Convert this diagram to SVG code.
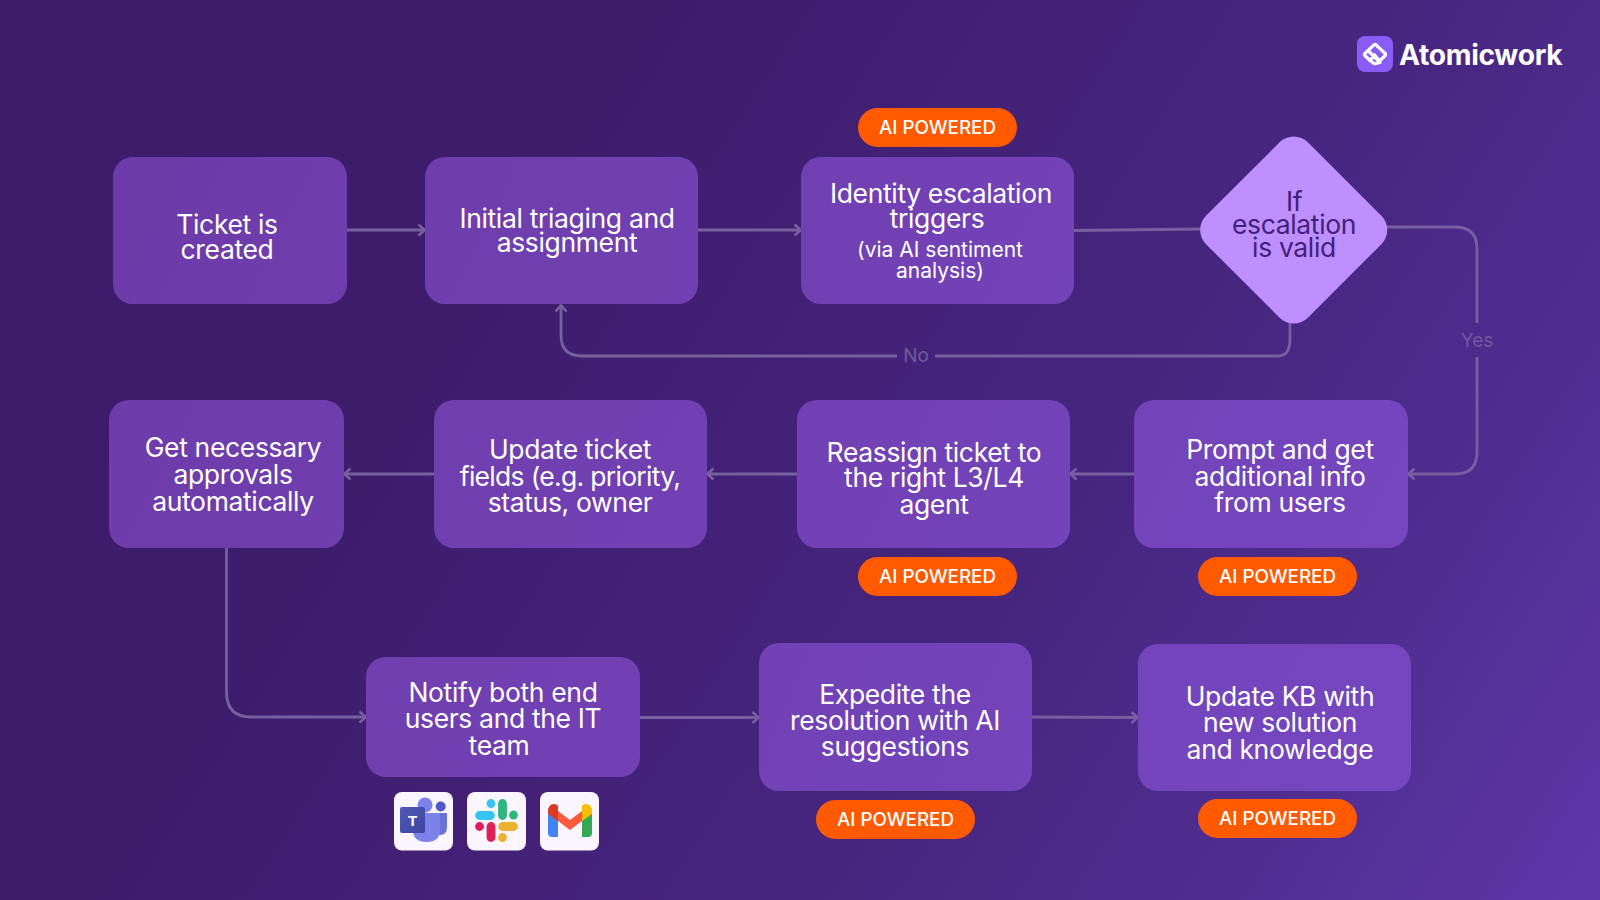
<svg xmlns="http://www.w3.org/2000/svg" width="1600" height="900" viewBox="0 0 1600 900">
<defs>
<linearGradient id="bg" gradientUnits="userSpaceOnUse" x1="500" y1="250" x2="1600" y2="950">
<stop offset="0" stop-color="#3e1c6c"/><stop offset="0.5" stop-color="#472681"/><stop offset="0.75" stop-color="#502e92"/><stop offset="1" stop-color="#6038ab"/>
</linearGradient>
<linearGradient id="box" gradientUnits="userSpaceOnUse" x1="100" y1="150" x2="1420" y2="800">
<stop offset="0" stop-color="#6d3ba8"/><stop offset="1" stop-color="#7547c0"/>
</linearGradient>
<marker id="arr" viewBox="0 0 10 14" refX="9" refY="7" markerWidth="10" markerHeight="14" markerUnits="userSpaceOnUse" orient="auto">
<path d="M2.500 1.500 L8.700 7 L2.500 12.500" fill="none" stroke="#77609f" stroke-width="2.600"/>
</marker>
<linearGradient id="tm" x1="0" y1="0" x2="1" y2="1"><stop offset="0" stop-color="#4f5ab8"/><stop offset="1" stop-color="#3d44a0"/></linearGradient>
</defs>
<style>
.b{fill:url(#box)}
.t{font-family:"Inter","Liberation Sans",sans-serif;font-size:26.5px;fill:#fff;text-anchor:middle;letter-spacing:-0.35px}
.s{font-size:21px;letter-spacing:0}
.d{fill:#43207a}
.c{fill:none;stroke:#77609f;stroke-width:2.800}
.p{fill:#ff5a00}
.pt{font-family:"Inter","Liberation Sans",sans-serif;font-size:18.800px;font-weight:500;fill:#fff;text-anchor:middle}
.l{font-family:"Inter","Liberation Sans",sans-serif;font-size:19px;fill:#6f5a9c;text-anchor:middle}
.w{fill:#faf5ff}
</style>
<rect width="1600" height="900" fill="url(#bg)"/>
<g id="connectors">
<path class="c" marker-end="url(#arr)" d="M347 230H425"/>
<path class="c" marker-end="url(#arr)" d="M698 230H801"/>
<path class="c" d="M1074 230.500L1202 229"/>
<path class="c" d="M1386 227H1455Q1477 227 1477 249V323"/>
<path class="c" marker-end="url(#arr)" d="M1477 357V452Q1477 474 1455 474H1408"/>
<path class="c" d="M1290 323V339Q1290 356 1278 356H935"/>
<path class="c" marker-end="url(#arr)" d="M897 356H582Q561 356 561 335V305"/>
<path class="c" marker-end="url(#arr)" d="M1134 474H1070"/>
<path class="c" marker-end="url(#arr)" d="M797 474H707"/>
<path class="c" marker-end="url(#arr)" d="M434 474H344"/>
<path class="c" marker-end="url(#arr)" d="M226.500 548V692Q226.500 717 251 717H366"/>
<path class="c" marker-end="url(#arr)" d="M640 717.500H759"/>
<path class="c" marker-end="url(#arr)" d="M1032 717L1138 717.500"/>
<text class="l" x="916" y="362">No</text>
<text class="l" x="1477" y="347">Yes</text>
</g>
<g id="n-ticket"><rect class="b" x="113" y="157" width="234" height="147" rx="20"/><text class="t" x="227" y="234">Ticket is</text><text class="t" x="227" y="259">created</text></g>
<g id="n-triage"><rect class="b" x="425" y="157" width="273" height="147" rx="20"/><text class="t" x="567" y="228">Initial triaging and</text><text class="t" x="567" y="252">assignment</text></g>
<g id="n-identity"><rect class="b" x="801" y="157" width="273" height="147" rx="20"/><text class="t" x="941" y="203">Identity escalation</text><text class="t" x="937" y="228">triggers</text><text class="t s" x="940" y="257">(via AI sentiment</text><text class="t s" x="940" y="278">analysis)</text></g>
<g id="n-diamond"><rect x="1221.700" y="158" width="144" height="144" rx="20" fill="#bd8fff" transform="rotate(45 1293.700 230)"/><text class="t d" x="1294" y="211">If</text><text class="t d" x="1294" y="234">escalation</text><text class="t d" x="1294" y="257">is valid</text></g>
<g id="n-approvals"><rect class="b" x="109" y="400" width="235" height="148" rx="20"/><text class="t" x="233" y="457">Get necessary</text><text class="t" x="233" y="484">approvals</text><text class="t" x="233" y="511">automatically</text></g>
<g id="n-fields"><rect class="b" x="434" y="400" width="273" height="148" rx="20"/><text class="t" x="570" y="459">Update ticket</text><text class="t" x="570" y="486" style="letter-spacing:-0.7px">fields (e.g. priority,</text><text class="t" x="570" y="512">status, owner</text></g>
<g id="n-reassign"><rect class="b" x="797" y="400" width="273" height="148" rx="20"/><text class="t" x="934" y="462">Reassign ticket to</text><text class="t" x="934" y="487">the right L3/L4</text><text class="t" x="934" y="514">agent</text></g>
<g id="n-prompt"><rect class="b" x="1134" y="400" width="274" height="148" rx="20"/><text class="t" x="1280" y="459">Prompt and get</text><text class="t" x="1280" y="486">additional info</text><text class="t" x="1280" y="512">from users</text></g>
<g id="n-notify"><rect class="b" x="366" y="657" width="274" height="120" rx="20"/><text class="t" x="503" y="702">Notify both end</text><text class="t" x="503" y="728">users and the IT</text><text class="t" x="499" y="755">team</text></g>
<g id="n-expedite"><rect class="b" x="759" y="643" width="273" height="148" rx="20"/><text class="t" x="895" y="704">Expedite the</text><text class="t" x="895" y="730">resolution with AI</text><text class="t" x="895" y="756">suggestions</text></g>
<g id="n-kb"><rect class="b" x="1138" y="644" width="273" height="147" rx="20"/><text class="t" x="1280" y="706">Update KB with</text><text class="t" x="1280" y="732">new solution</text><text class="t" x="1280" y="759">and knowledge</text></g>
<g id="pill-1"><rect class="p" x="858" y="108" width="159" height="39" rx="19.500"/><text class="pt" x="937.500" y="134">AI POWERED</text></g>
<g id="pill-2"><rect class="p" x="858" y="557" width="159" height="39" rx="19.500"/><text class="pt" x="937.500" y="583">AI POWERED</text></g>
<g id="pill-3"><rect class="p" x="1198" y="557" width="159" height="39" rx="19.500"/><text class="pt" x="1277.500" y="583">AI POWERED</text></g>
<g id="pill-4"><rect class="p" x="816" y="800" width="159" height="39" rx="19.500"/><text class="pt" x="895.500" y="826">AI POWERED</text></g>
<g id="pill-5"><rect class="p" x="1198" y="799" width="159" height="39" rx="19.500"/><text class="pt" x="1277.500" y="825">AI POWERED</text></g>
<g id="icon-teams"><rect class="w" x="394" y="792" width="59" height="58.500" rx="8"/>
<circle cx="425" cy="805" r="7.500" fill="#7b83eb"/><circle cx="440.700" cy="806.500" r="5" fill="#5059c9"/>
<path d="M435 813H447V827Q447 835 440 835H435Z" fill="#6a72d8"/>
<path d="M413 813H440V830Q440 842 426.500 842Q413 842 413 830Z" fill="#7b83eb"/>
<rect x="400" y="807" width="25" height="26" rx="2" fill="url(#tm)"/>
<text x="412.500" y="826" font-family="'Liberation Sans',sans-serif" font-size="15" font-weight="700" fill="#fff" text-anchor="middle">T</text></g>
<g id="icon-slack"><rect class="w" x="467" y="792" width="59" height="58.500" rx="8"/>
<g stroke-linecap="round" stroke-width="8.800" fill="none">
<path d="M479.500 815.500H490.500" stroke="#36c5f0"/><path d="M491 803.500V803.600" stroke="#36c5f0"/>
<path d="M502.500 803.500V815.500" stroke="#2eb67d"/><path d="M513.500 815V815.100" stroke="#2eb67d"/>
<path d="M479.500 826.500H479.600" stroke="#e01e5a"/><path d="M491 826.500V837.500" stroke="#e01e5a"/>
<path d="M502.500 826.500H513.500" stroke="#ecb22e"/><path d="M502.500 837.500V837.600" stroke="#ecb22e"/>
</g></g>
<g id="icon-gmail"><rect class="w" x="540" y="792" width="59" height="58.500" rx="8"/>
<path d="M548 813V833Q548 837 552 837H558V815Z" fill="#4285f4"/><path d="M582 815V837H588Q592 837 592 833V813Z" fill="#34a853"/>
<path d="M558 811L570 820L582 811V821L570 830L558 821Z" fill="#ff5a3c"/>
<path d="M548 812Q548 804 554 804Q556 804 558 805.500L558 821L548 814Z" fill="#d93b25"/>
<path d="M582 805.500Q584 804 586 804Q592 804 592 812V814L582 821Z" fill="#fbbc04"/></g>
<g id="logo"><rect x="1357" y="36" width="36" height="36" rx="8" fill="#8a5cf6"/>
<g fill="none" stroke="#fff" stroke-width="3.200" stroke-linejoin="round" stroke-linecap="round"><path d="M1370 60.500L1364.800 55.500Q1364 54.500 1364.800 53.500L1374 44.800Q1375 44 1376 44.800L1385.200 53.500Q1386 54.500 1385.200 55.500L1379.500 61L1374.500 55"/><path d="M1369.500 52L1374.500 57L1380 62.500L1376 63.500Q1375 64 1374 63.500L1370 60.500L1374.500 55"/></g>
<text x="1399" y="65" font-family="Inter,'Liberation Sans',sans-serif" font-size="28.200" font-weight="700" fill="#fff" letter-spacing="-0.3">Atomicwork</text></g>
</svg>
